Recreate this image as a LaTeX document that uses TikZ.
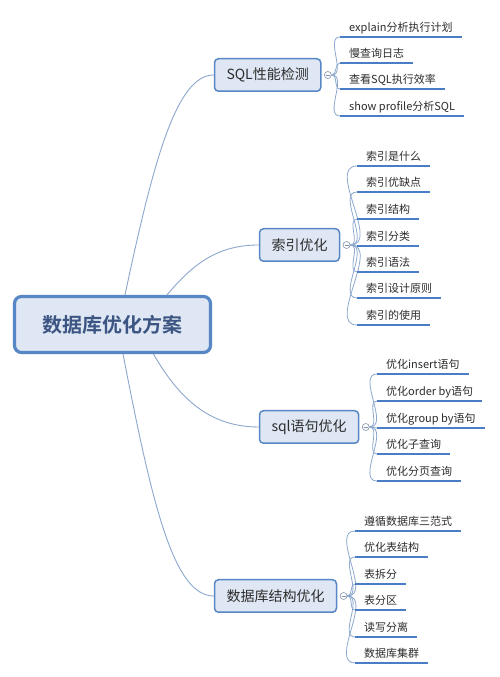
\documentclass[tikz,border=0pt]{standalone}
\usepackage{fontspec}
\setmainfont{Noto Sans CJK SC}[BoldFont={Noto Sans CJK SC Bold}]
\usepackage{tikz}
\usetikzlibrary{positioning}
\definecolor{topicfill}{RGB}{222,231,243}
\definecolor{topicline}{RGB}{88,135,198}
\definecolor{rootink}{RGB}{60,85,130}
\definecolor{twigline}{RGB}{140,168,206}
\definecolor{leafline}{RGB}{74,126,196}
\definecolor{foldline}{RGB}{130,146,170}
\definecolor{inkgray}{RGB}{45,45,45}

\begin{document}
\begin{tikzpicture}[
    x=1pt, y=1pt,
    topic/.style={rectangle, draw=topicline, fill=topicfill, line width=1.5pt, rounded corners=4pt, minimum height=32.5pt, inner xsep=12pt, font=\fontsize{14}{16}\selectfont, text=inkgray, anchor=west},
    root/.style={topic, line width=3.2pt, rounded corners=7pt, minimum width=196pt, minimum height=56pt, font=\fontsize{20}{24}\selectfont\bfseries, text=rootink, anchor=center},
    fold/.style={circle, draw=foldline, fill=white, line width=0.6pt, minimum size=7pt, inner sep=0pt, path picture={\draw[foldline, line width=0.5pt] ([xshift=-2pt]path picture bounding box.center) -- ([xshift=2pt]path picture bounding box.center);}},
    leaf/.style={anchor=south west, inner xsep=9pt, inner ysep=3.5pt, text height=8.5pt, text depth=2pt, font=\fontsize{11}{13}\selectfont, text=inkgray},
    under/.style={leafline, line width=1.8pt},
    twig/.style={twigline, line width=0.8pt},
    bough/.style={twigline, line width=0.9pt}
]
    \useasboundingbox[fill=white] (0,0) rectangle (500,677);

    % central topic and main branches
    \node[root] (root) at (112.5,352.5) {数据库优化方案};
    \node[topic] (perf) at (213.75,602) {SQL性能检测};
    \node[topic] (idx) at (258.75,432) {索引优化};
    \node[topic] (stmt) at (258.75,250) {sql语句优化};
    \node[topic] (schema) at (213.75,81) {数据库结构优化};

    \node[fold, right=2.5pt of perf] (perf-f) {};
    \node[fold, right=2.5pt of idx] (idx-f) {};
    \node[fold, right=2.5pt of stmt] (stmt-f) {};
    \node[fold, right=2.5pt of schema] (schema-f) {};

    \draw[bough] ([xshift=12.5pt]root.north) to[out=78, in=180, out looseness=1.5, in looseness=0.4] (perf.west);
    \draw[bough] ([xshift=54.5pt]root.north) to[out=50, in=180] (idx.west);
    \draw[bough] ([xshift=41pt]root.south) to[out=-60, in=180] (stmt.west);
    \draw[bough] ([xshift=10.5pt]root.south) to[out=-79, in=180, out looseness=1.5, in looseness=0.4] (schema.west);

    % SQL performance
    \node[leaf] (p1) at (340,640) {explain分析执行计划};
    \node[leaf] (p2) at (340,614) {慢查询日志};
    \node[leaf] (p3) at (340,588) {查看SQL执行效率};
    \node[leaf] (p4) at (340,561) {show profile分析SQL};

    % index
    \node[leaf] (i1) at (357,511) {索引是什么};
    \node[leaf] (i2) at (357,485) {索引优缺点};
    \node[leaf] (i3) at (357,458) {索引结构};
    \node[leaf] (i4) at (357,431) {索引分类};
    \node[leaf] (i5) at (357,405) {索引语法};
    \node[leaf] (i6) at (357,379) {索引设计原则};
    \node[leaf] (i7) at (357,352) {索引的使用};

    % statements
    \node[leaf] (s1) at (377,303) {优化insert语句};
    \node[leaf] (s2) at (377,276) {优化order by语句};
    \node[leaf] (s3) at (377,249) {优化group by语句};
    \node[leaf] (s4) at (377,223) {优化子查询};
    \node[leaf] (s5) at (377,196) {优化分页查询};

    % schema
    \node[leaf] (d1) at (355,146) {遵循数据库三范式};
    \node[leaf] (d2) at (355,120) {优化表结构};
    \node[leaf] (d3) at (355,93) {表拆分};
    \node[leaf] (d4) at (355,67) {表分区};
    \node[leaf] (d5) at (355,40) {读写分离};
    \node[leaf] (d6) at (355,14) {数据库集群};

    \foreach \n in {p1,p2,p3,p4} \draw[twig] (perf-f.east) to[out=0, in=180] (\n.south west);
    \foreach \n in {i1,i2,i3,i4,i5,i6,i7} \draw[twig] (idx-f.east) to[out=0, in=180] (\n.south west);
    \foreach \n in {s1,s2,s3,s4,s5} \draw[twig] (stmt-f.east) to[out=0, in=180] (\n.south west);
    \foreach \n in {d1,d2,d3,d4,d5,d6} \draw[twig] (schema-f.east) to[out=0, in=180] (\n.south west);

    \foreach \n in {p1,p2,p3,p4,i1,i2,i3,i4,i5,i6,i7,s1,s2,s3,s4,s5,d1,d2,d3,d4,d5,d6}
        \draw[under] (\n.south west) -- (\n.south east);
\end{tikzpicture}
\end{document}
